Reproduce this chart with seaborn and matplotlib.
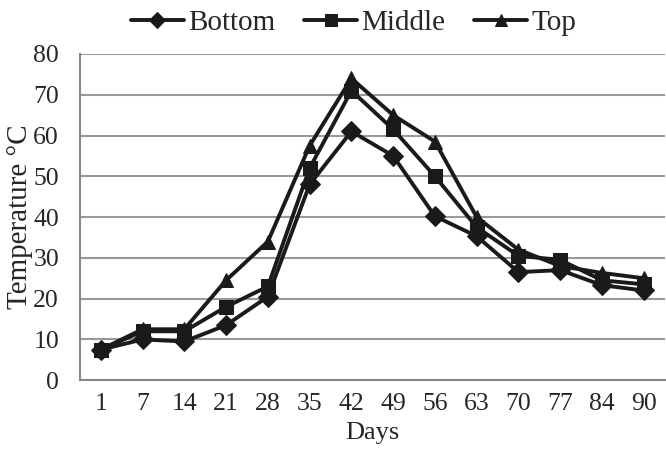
import pandas as pd
import numpy as np
import seaborn as sns
import matplotlib.pyplot as plt
from matplotlib.ticker import FixedLocator

days = ["1", "7", "14", "21", "28", "35", "42", "49", "56", "63", "70", "77", "84", "90"]
bottom = [7.5, 10, 9.5, 13.5, 20.5, 48, 61, 55, 40.2, 35.3, 26.5, 27, 23.3, 22]
middle = [7.5, 12, 12, 18, 23, 52, 71, 61.5, 50, 37.5, 30.5, 29.5, 24.5, 23.5]
top = [7.5, 12.5, 12.5, 24.5, 34, 57.5, 74, 65, 58.5, 40, 32, 28, 26.3, 25]

df = pd.DataFrame({
    "pos": list(range(len(days))) * 3,
    "temp": bottom + middle + top,
    "layer": ["Bottom"] * len(days) + ["Middle"] * len(days) + ["Top"] * len(days),
})

sns.set_style("white")
plt.rcParams["font.family"] = ["Liberation Serif", "DejaVu Serif"]

fig, ax = plt.subplots(figsize=(6.66, 4.57), dpi=100)
fig.subplots_adjust(left=0.12, right=0.998, bottom=0.168, top=0.882)

ink = "#1a1a1a"
sns.lineplot(data=df, x="pos", y="temp", hue="layer", style="layer",
             palette=[ink, ink, ink], markers={"Bottom": "D", "Middle": "s", "Top": "^"},
             dashes=False, linewidth=2.8, markersize=10, markeredgecolor=ink,
             ax=ax)

ax.set_xlim(-0.5, len(days) - 0.5)
ax.set_ylim(0, 80)
ax.set_yticks(range(0, 81, 10))
ax.set_xticks(range(len(days)))
ax.set_xticklabels(days)
ax.xaxis.set_minor_locator(FixedLocator(np.arange(-0.5, len(days), 1.0)))
ax.tick_params(axis="x", which="major", length=0, labelsize=18.5, pad=9)
ax.tick_params(axis="x", which="minor", length=6, width=1.5, color="#888888", direction="out")
ax.tick_params(axis="y", length=6, width=1.5, color="#888888", direction="out", labelsize=18.5, pad=9)
ax.grid(axis="y", color="#999999", linewidth=1.5)
ax.set_axisbelow(True)
for s in ["top", "right"]:
    ax.spines[s].set_visible(False)
for s in ["left", "bottom"]:
    ax.spines[s].set_color("#888888")
    ax.spines[s].set_linewidth(1.5)

ax.set_xlabel("Days", fontsize=19, labelpad=5)
ax.set_ylabel("Temperature °C", fontsize=21)
ax.yaxis.set_label_coords(-0.08, 0.5)

handles, labels = ax.get_legend_handles_labels()
for h in handles:
    h.set_markersize(8)
ax.legend(handles, labels, loc="lower center", bbox_to_anchor=(0.468, 1.02), ncol=3,
          frameon=False, fontsize=21, handlelength=1.8, handletextpad=0.15,
          columnspacing=1.0, borderaxespad=0.0)

fig.savefig("out.png", dpi=100)
